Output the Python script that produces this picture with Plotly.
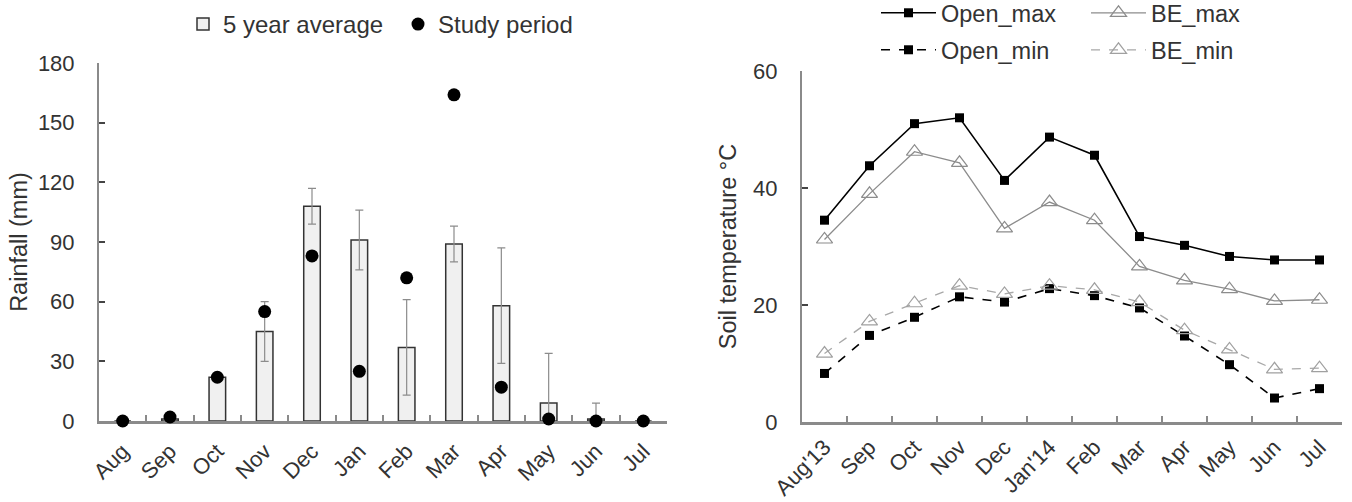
import plotly.graph_objects as go

W, H = 1352, 502

months_left = ["Aug", "Sep", "Oct", "Nov", "Dec", "Jan", "Feb", "Mar", "Apr", "May", "Jun", "Jul"]
avg_rain = [0, 1, 22, 45, 108, 91, 37, 89, 58, 9, 1, 0]
avg_err = [0, 1, 1, 15, 9, 15, 24, 9, 29, 25, 8, 0]
study_rain = [0, 2, 22, 55, 83, 25, 72, 164, 17, 1, 0, 0]

months_right = ["Aug'13", "Sep", "Oct", "Nov", "Dec", "Jan'14", "Feb", "Mar", "Apr", "May", "Jun", "Jul"]
open_max = [34.5, 43.8, 51.0, 52.0, 41.3, 48.7, 45.6, 31.7, 30.2, 28.3, 27.7, 27.7]
be_max = [31.2, 39.0, 46.2, 44.3, 33.1, 37.6, 34.5, 26.6, 24.2, 22.7, 20.7, 20.9]
open_min = [8.3, 14.8, 17.9, 21.4, 20.5, 22.8, 21.6, 19.5, 14.7, 9.8, 4.1, 5.7]
be_min = [11.7, 17.2, 20.3, 23.3, 21.9, 23.3, 22.6, 20.5, 15.7, 12.4, 9.0, 9.2]

FONT = "Liberation Sans, Arial, sans-serif"
TXT = "#333333"
AX = "#8a8a8a"
FS = 22

fig = go.Figure()

err_minus = [min(e, v) for e, v in zip(avg_err, avg_rain)]
fig.add_trace(go.Bar(
    x=months_left, y=avg_rain, name="5 year average", width=0.35,
    marker=dict(color="#f0f0f0", line=dict(color="#333333", width=1.5)),
    error_y=dict(type="data", array=avg_err, arrayminus=err_minus, color="#8c8c8c",
                 thickness=1.2, width=4),
    xaxis="x", yaxis="y", legend="legend",
))
fig.add_trace(go.Scatter(
    x=months_left, y=study_rain, name="Study period", mode="markers",
    marker=dict(symbol="circle", size=13, color="#000000"), cliponaxis=False,
    xaxis="x", yaxis="y", legend="legend",
))

fig.add_trace(go.Scatter(
    x=months_right, y=open_max, name="Open_max", mode="lines+markers",
    line=dict(color="#000000", width=1.6),
    marker=dict(symbol="square", size=9, color="#000000"),
    xaxis="x2", yaxis="y2", legend="legend2",
))
fig.add_trace(go.Scatter(
    x=months_right, y=be_max, name="BE_max", mode="lines+markers",
    line=dict(color="#8c8c8c", width=1.3),
    marker=dict(symbol="triangle-up-open", size=14, color="#8c8c8c", line=dict(width=1.2)),
    xaxis="x2", yaxis="y2", legend="legend2",
))
fig.add_trace(go.Scatter(
    x=months_right, y=open_min, name="Open_min", mode="lines+markers",
    line=dict(color="#000000", width=1.6, dash="dash"),
    marker=dict(symbol="square", size=9, color="#000000"),
    xaxis="x2", yaxis="y2", legend="legend3",
))
fig.add_trace(go.Scatter(
    x=months_right, y=be_min, name="BE_min", mode="lines+markers",
    line=dict(color="#a8a8a8", width=1.3, dash="dash"),
    marker=dict(symbol="triangle-up-open", size=14, color="#a0a0a0", line=dict(width=1.2)),
    xaxis="x2", yaxis="y2", legend="legend3",
))

tickfont = dict(family=FONT, size=FS, color=TXT)

common_x = dict(
    type="category", showline=True, linecolor=AX, linewidth=2.5,
    ticks="inside", tickson="boundaries", ticklen=6, tickcolor=AX, tickwidth=1.5,
    tickangle=-45, tickfont=tickfont, showgrid=False, zeroline=False,
    automargin=False, layer="below traces",
)
common_y = dict(
    showline=True, linecolor=AX, linewidth=2, ticks="inside", ticklen=6,
    tickcolor="#444444", tickwidth=1.5, tickfont=tickfont, showgrid=False,
    zeroline=False, automargin=False, layer="below traces",
)

fig.update_layout(
    width=W, height=H,
    margin=dict(l=0, r=0, t=0, b=0, autoexpand=False),
    paper_bgcolor="white", plot_bgcolor="white",
    font=dict(family=FONT, color=TXT),
    xaxis=dict(domain=[99 / W, 667 / W], range=[-0.5, 11.5], anchor="y",
               ticklabelstandoff=6, **common_x),
    yaxis=dict(domain=[1 - 421 / H, 1 - 63 / H], range=[0, 180], dtick=30, anchor="x",
               title=dict(text="Rainfall (mm)", font=dict(family=FONT, size=23.5, color=TXT), standoff=4),
               ticklabelstandoff=18, **common_y),
    xaxis2=dict(domain=[802 / W, 1342 / W], range=[-0.5, 11.5], anchor="y2",
                ticklabelstandoff=1, **common_x),
    yaxis2=dict(domain=[1 - 422 / H, 1 - 71 / H], range=[0, 60], dtick=20, anchor="x2",
                title=dict(text="Soil temperature °C", font=dict(family=FONT, size=23.5, color=TXT), standoff=10),
                ticklabelstandoff=18, **common_y),
    legend=dict(orientation="h", x=183 / W, y=1 - 2 / H, xanchor="left", yanchor="top",
                font=dict(family=FONT, size=24, color=TXT), bgcolor="rgba(0,0,0,0)",
                itemwidth=30, entrywidth=170, entrywidthmode="pixels"),
    legend2=dict(orientation="h", x=876 / W, y=1 + 9 / H, xanchor="left", yanchor="top",
                 font=dict(family=FONT, size=23.5, color=TXT), bgcolor="rgba(0,0,0,0)",
                 itemwidth=55, entrywidth=140, entrywidthmode="pixels"),
    legend3=dict(orientation="h", x=876 / W, y=1 - 28 / H, xanchor="left", yanchor="top",
                 font=dict(family=FONT, size=23.5, color=TXT), bgcolor="rgba(0,0,0,0)",
                 itemwidth=55, entrywidth=140, entrywidthmode="pixels"),
)

fig.write_html("out.html", config={"displayModeBar": False},
               post_script="document.body.style.margin='0';")
